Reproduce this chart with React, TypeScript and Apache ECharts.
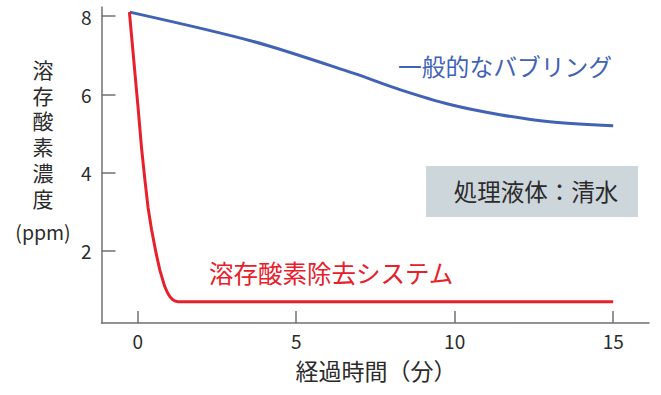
import React, { useEffect, useRef } from "react";
import * as echarts from "echarts";

const xTicks = [0, 5, 10, 15];
const yTicks = [2, 4, 6, 8];

const bubblingX = [-0.25, 3.65, 6.8, 8.27, 9.85, 11.43, 13, 15];
const bubblingY = [8.1, 7.35, 6.54, 6.12, 5.74, 5.48, 5.3, 5.2];

const systemX = [-0.26, 0.02, 0.12, 0.23, 0.33, 0.44, 0.58, 0.7, 0.85, 0.95, 1.02, 1.1, 1.18, 1.3, 15];
const systemY = [8.1, 5.6, 4.65, 3.81, 3.1, 2.54, 1.95, 1.51, 1.1, 0.92, 0.83, 0.76, 0.72, 0.7, 0.7];

const yAxisTitle = ["溶", "存", "酸", "素", "濃", "度"];
const yAxisUnit = "(ppm)";
const xAxisTitle = "経過時間（分）";
const bubblingLabel = "一般的なバブリング";
const systemLabel = "溶存酸素除去システム";
const noteLabel = "処理液体：清水";

const FONT = "'Noto Sans CJK JP', 'Noto Sans', sans-serif";
const BLUE = "#4262b6";
const RED = "#e8202b";
const AXIS = "#707070";
const TEXT = "#2b2b2b";

export default function App() {
  const ref = useRef<HTMLDivElement>(null);
  useEffect(() => {
    if (!ref.current) return;
    const chart = echarts.init(ref.current, null, { renderer: "svg" });
    const zip = (xs: number[], ys: number[]) => xs.map((x, i) => [x, ys[i]]);
    const titleChars = yAxisTitle.map((ch, i) => ({
      type: "text",
      x: 43,
      y: 69 + i * 25.7,
      style: { text: ch, font: `21px ${FONT}`, lineHeight: 21, align: "center", verticalAlign: "middle", fill: TEXT },
    }));
    chart.setOption({
      animation: false,
      backgroundColor: "#ffffff",
      textStyle: { fontFamily: FONT },
      grid: { left: 101.5, top: 7, right: 12, bottom: 72 },
      xAxis: {
        type: "value",
        min: -1.14,
        max: 16.13,
        splitLine: { show: false },
        axisLine: { show: true, onZero: false, lineStyle: { color: AXIS, width: 1.5 } },
        axisTick: { show: true, inside: true, length: 12, customValues: xTicks, lineStyle: { color: AXIS, width: 1.5 } },
        axisLabel: { customValues: xTicks, color: TEXT, fontSize: 19, margin: 8, fontFamily: FONT },
      },
      yAxis: {
        type: "value",
        min: 0.16,
        max: 8.23,
        splitLine: { show: false },
        axisLine: { show: true, onZero: false, lineStyle: { color: AXIS, width: 1.5 } },
        axisTick: { show: true, inside: true, length: 14, customValues: yTicks, lineStyle: { color: AXIS, width: 1.5 } },
        axisLabel: { customValues: yTicks, color: TEXT, fontSize: 19, margin: 10, fontFamily: FONT },
      },
      series: [
        {
          type: "line",
          data: zip(bubblingX, bubblingY),
          symbol: "none",
          smooth: 0.3,
          lineStyle: { color: BLUE, width: 3 },
          z: 2,
        },
        {
          type: "line",
          data: zip(systemX, systemY),
          symbol: "none",
          lineStyle: { color: RED, width: 3, join: "round" },
          z: 3,
        },
      ],
      graphic: [
        ...titleChars,
        {
          type: "text",
          x: 43,
          y: 231,
          style: { text: yAxisUnit, font: `19.5px ${FONT}`, align: "center", verticalAlign: "middle", fill: TEXT },
        },
        {
          type: "text",
          x: 376,
          y: 370,
          style: { text: xAxisTitle, font: `23px ${FONT}`, align: "center", verticalAlign: "middle", fill: TEXT },
        },
        {
          type: "text",
          x: 398,
          y: 65,
          style: { text: bubblingLabel, font: `23.8px ${FONT}`, align: "left", verticalAlign: "middle", fill: BLUE },
        },
        {
          type: "text",
          x: 209,
          y: 272,
          style: { text: systemLabel, font: `24.5px ${FONT}`, align: "left", verticalAlign: "middle", fill: RED },
        },
        {
          type: "rect",
          shape: { x: 426, y: 166, width: 212, height: 51 },
          style: { fill: "#cdd6db" },
        },
        {
          type: "text",
          x: 536,
          y: 191,
          style: { text: noteLabel, font: `23.5px ${FONT}`, align: "center", verticalAlign: "middle", fill: TEXT },
        },
      ],
    });
    return () => chart.dispose();
  }, []);
  return (
    <div
      ref={ref}
      style={{ position: "fixed", left: 0, top: 0, width: 661, height: 395, background: "#fff" }}
    />
  );
}
